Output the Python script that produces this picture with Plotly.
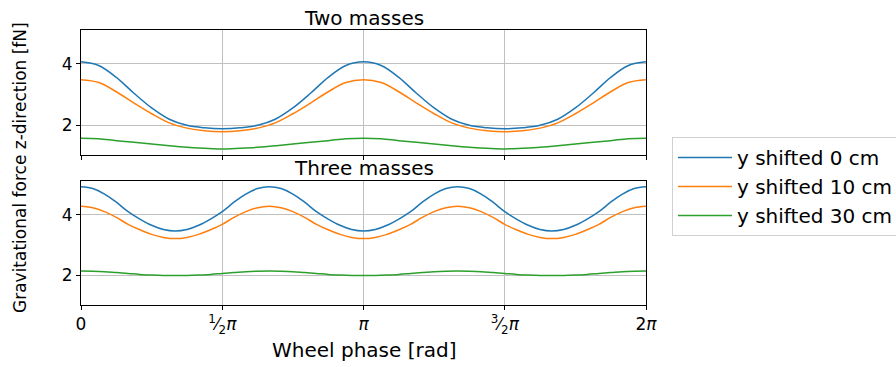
import numpy as np
import plotly.graph_objects as go

# Wheel phase samples (rad)
phase_two = np.linspace(0, 2 * np.pi, 33)     # step pi/16
phase_three = np.linspace(0, 2 * np.pi, 49)   # step pi/24

# Two masses: gravitational force z-direction [fN]
two_y0 = [4.07, 3.95, 3.56, 3.04, 2.56, 2.19, 1.99, 1.91, 1.88, 1.91, 1.99, 2.19, 2.56, 3.04, 3.56, 3.95,
          4.07, 3.95, 3.56, 3.04, 2.56, 2.19, 1.99, 1.91, 1.88, 1.91, 1.99, 2.19, 2.56, 3.04, 3.56, 3.95, 4.07]
two_y10 = [3.48, 3.39, 3.09, 2.72, 2.37, 2.07, 1.90, 1.81, 1.78, 1.81, 1.90, 2.07, 2.37, 2.72, 3.09, 3.39,
           3.48, 3.39, 3.09, 2.72, 2.37, 2.07, 1.90, 1.81, 1.78, 1.81, 1.90, 2.07, 2.37, 2.72, 3.09, 3.39, 3.48]
two_y30 = [1.565, 1.55, 1.49, 1.44, 1.38, 1.32, 1.27, 1.24, 1.22, 1.24, 1.27, 1.32, 1.38, 1.44, 1.49, 1.55,
           1.565, 1.55, 1.49, 1.44, 1.38, 1.32, 1.27, 1.24, 1.22, 1.24, 1.27, 1.32, 1.38, 1.44, 1.49, 1.55, 1.565]

# Three masses: gravitational force z-direction [fN]
three_y0 = [4.92, 4.86, 4.68, 4.41, 4.10, 3.855, 3.65, 3.51, 3.46, 3.51, 3.65, 3.855, 4.10, 4.41, 4.68, 4.86,
            4.92, 4.86, 4.68, 4.41, 4.10, 3.855, 3.65, 3.51, 3.46, 3.51, 3.65, 3.855, 4.10, 4.41, 4.68, 4.86,
            4.92, 4.86, 4.68, 4.41, 4.10, 3.855, 3.65, 3.51, 3.46, 3.51, 3.65, 3.855, 4.10, 4.41, 4.68, 4.86, 4.92]
three_y10 = [4.28, 4.23, 4.10, 3.91, 3.68, 3.50, 3.35, 3.25, 3.21, 3.25, 3.35, 3.50, 3.68, 3.91, 4.10, 4.23,
             4.28, 4.23, 4.10, 3.91, 3.68, 3.50, 3.35, 3.25, 3.21, 3.25, 3.35, 3.50, 3.68, 3.91, 4.10, 4.23,
             4.28, 4.23, 4.10, 3.91, 3.68, 3.50, 3.35, 3.25, 3.21, 3.25, 3.35, 3.50, 3.68, 3.91, 4.10, 4.23, 4.28]
three_y30 = [2.14, 2.135, 2.12, 2.09, 2.06, 2.03, 2.01, 1.995, 1.99, 1.995, 2.01, 2.03, 2.06, 2.09, 2.12, 2.135,
             2.14, 2.135, 2.12, 2.09, 2.06, 2.03, 2.01, 1.995, 1.99, 1.995, 2.01, 2.03, 2.06, 2.09, 2.12, 2.135,
             2.14, 2.135, 2.12, 2.09, 2.06, 2.03, 2.01, 1.995, 1.99, 1.995, 2.01, 2.03, 2.06, 2.09, 2.12, 2.135, 2.14]

series_names = ["y shifted 0 cm", "y shifted 10 cm", "y shifted 30 cm"]
colors = ["#1f77b4", "#ff7f0e", "#2ca02c"]

x_tickvals = [0, np.pi / 2, np.pi, 3 * np.pi / 2, 2 * np.pi]
x_ticktext = ["0", "<sup>1</sup>\u2044<sub>2</sub><i>\u03c0</i>", "<i>\u03c0</i>",
              "<sup>3</sup>\u2044<sub>2</sub><i>\u03c0</i>", "2<i>\u03c0</i>"]
y_tickvals = [2, 4]

FONT = "DejaVu Sans"

fig = go.Figure()
for name, color, ys in zip(series_names, colors, [two_y0, two_y10, two_y30]):
    fig.add_trace(go.Scatter(x=phase_two, y=ys, mode="lines", name=name,
                             line=dict(color=color, width=1.5, shape="spline"),
                             xaxis="x", yaxis="y", legendgroup=name))
for name, color, ys in zip(series_names, colors, [three_y0, three_y10, three_y30]):
    fig.add_trace(go.Scatter(x=phase_three, y=ys, mode="lines", name=name,
                             line=dict(color=color, width=1.5, shape="spline"),
                             xaxis="x2", yaxis="y2", legendgroup=name, showlegend=False))

axis_common = dict(showline=True, mirror=True, linecolor="black", linewidth=1,
                   ticks="outside", ticklen=4, tickwidth=1, tickcolor="black",
                   showgrid=True, gridcolor="#c0c0c0", gridwidth=1, zeroline=False,
                   tickfont=dict(family=FONT, size=17, color="black"))

yr = [1.02, 5.11]
fig.update_layout(
    width=896, height=367,
    margin=dict(l=81, r=250, t=30, b=62, autoexpand=False),
    paper_bgcolor="white", plot_bgcolor="white",
    font=dict(family=FONT, color="black"),
    xaxis=dict(axis_common, domain=[0, 1], anchor="y", range=[0, 2 * np.pi],
               tickvals=x_tickvals, ticktext=x_ticktext, showticklabels=False),
    xaxis2=dict(axis_common, domain=[0, 1], anchor="y2", range=[0, 2 * np.pi], matches="x",
                tickvals=x_tickvals, ticktext=x_ticktext),
    yaxis=dict(axis_common, domain=[150 / 275, 1], anchor="x", range=yr, tickvals=y_tickvals),
    yaxis2=dict(axis_common, domain=[0, 124 / 275], anchor="x2", range=yr, tickvals=y_tickvals),
    showlegend=True,
    legend=dict(x=672 / 896, y=(367 - 137) / 367, xref="container", yref="container",
                xanchor="left", yanchor="top",
                font=dict(family=FONT, size=20, color="black"),
                bordercolor="#d0d0d0", borderwidth=1, bgcolor="white",
                tracegroupgap=0, itemwidth=54),
    annotations=[
        dict(text="Two masses", x=0.5, y=(305 - 17.5) / 275, xref="paper", yref="paper",
             xanchor="center", yanchor="middle", showarrow=False,
             font=dict(family=FONT, size=20, color="black")),
        dict(text="Three masses", x=0.5, y=(305 - 167.5) / 275, xref="paper", yref="paper",
             xanchor="center", yanchor="middle", showarrow=False,
             font=dict(family=FONT, size=20, color="black")),
        dict(text="Wheel phase [rad]", x=0.5, y=(305 - 350) / 275, xref="paper", yref="paper",
             xanchor="center", yanchor="middle", showarrow=False,
             font=dict(family=FONT, size=20, color="black")),
        dict(text="Gravitational force z-direction [fN]", x=(20 - 81) / 565, y=(305 - 168) / 275,
             xref="paper", yref="paper", xanchor="center", yanchor="middle", textangle=-90,
             showarrow=False, font=dict(family=FONT, size=17, color="black")),
    ],
)

fig.write_html("out.html")
